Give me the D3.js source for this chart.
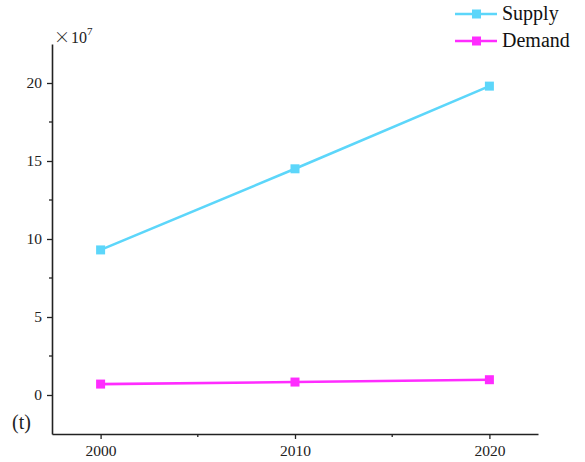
<!DOCTYPE html>
<html>
<head>
<meta charset="utf-8">
<script src="https://cdn.jsdelivr.net/npm/d3@7/dist/d3.min.js"></script>
<style>
  html, body { margin: 0; padding: 0; background: #fff; }
  svg { display: block; font-family: "Liberation Serif", "Times New Roman", serif; }
</style>
</head>
<body>
<svg id="chart" width="585" height="462"></svg>
<script>
// Years on the x axis
const years = [2000, 2010, 2020];
// Values in units of 10^7 t
const supply = [9.3, 14.5, 19.8];
const demand = [0.7, 0.83, 0.98];
const seriesNames = ["Supply", "Demand"];
const seriesColors = ["#5cd6fa", "#ff2cff"];
const yTickValues = [0, 5, 10, 15, 20];
const xTickValues = [2000, 2010, 2020];

const svg = d3.select("#chart");
const plotLeft = 52, plotRight = 538, plotTop = 44, plotBottom = 434;

const x = d3.scaleLinear().domain([1997.5, 2022.5]).range([plotLeft, plotRight]);
const y = d3.scaleLinear().domain([-2.5, 22.5]).range([plotBottom, plotTop]);

// Minor ticks
const yMinor = [2.5, 7.5, 12.5, 17.5];
svg.append("g").selectAll("line").data(yMinor).join("line")
  .attr("x1", plotLeft).attr("x2", plotLeft - 3)
  .attr("y1", d => y(d)).attr("y2", d => y(d))
  .attr("stroke", "#222").attr("stroke-width", 1.3);
const xMinor = [2005, 2015];
svg.append("g").selectAll("line").data(xMinor).join("line")
  .attr("x1", d => x(d)).attr("x2", d => x(d))
  .attr("y1", plotBottom).attr("y2", plotBottom + 3)
  .attr("stroke", "#222").attr("stroke-width", 1.3);

// Axes
const yAxis = d3.axisLeft(y).tickValues(yTickValues).tickSize(5).tickPadding(5).tickSizeOuter(0);
const gy = svg.append("g").attr("transform", `translate(${plotLeft},0)`).call(yAxis);
const xAxis = d3.axisBottom(x).tickValues(xTickValues).tickFormat(d3.format("d")).tickSize(5).tickPadding(6).tickSizeOuter(0);
const gx = svg.append("g").attr("transform", `translate(0,${plotBottom})`).call(xAxis);
[gx, gy].forEach(g => {
  g.attr("font-size", null).attr("font-family", null);
  g.select(".domain").attr("stroke", "#222").attr("stroke-width", 1.6);
  g.selectAll(".tick line").attr("stroke", "#222").attr("stroke-width", 1.3);
  g.selectAll(".tick text").attr("fill", "#222").style("font-size", "15.5px")
    .style("font-family", "'Liberation Serif', serif");
});

// Unit labels
const unit = svg.append("text").attr("x", 54).attr("y", 43).attr("fill", "#222")
  .style("font-size", "16px");
unit.append("tspan").style("font-family", "'Noto Sans CJK SC', sans-serif")
  .style("font-weight", 300).style("font-size", "16px").text("×");
unit.append("tspan").attr("dx", 1).text("10");
unit.append("tspan").attr("dy", -8).style("font-size", "11px").text("7");
svg.append("text").attr("x", 12).attr("y", 429).attr("fill", "#222")
  .style("font-size", "20px").text("(t)");

// Series
const series = [supply, demand];
const line = d3.line().x((d, i) => x(years[i])).y(d => y(d));
series.forEach((vals, k) => {
  svg.append("path").datum(vals)
    .attr("d", line).attr("fill", "none")
    .attr("stroke", seriesColors[k]).attr("stroke-width", 2.6);
  svg.append("g").selectAll("rect").data(vals).join("rect")
    .attr("x", (d, i) => x(years[i]) - 4.5)
    .attr("y", d => y(d) - 4.5)
    .attr("width", 9).attr("height", 9)
    .attr("fill", seriesColors[k]);
});

// Legend
const legend = svg.append("g");
seriesNames.forEach((name, k) => {
  const ly = 14 + k * 27;
  legend.append("line").attr("x1", 455).attr("x2", 497).attr("y1", ly).attr("y2", ly)
    .attr("stroke", seriesColors[k]).attr("stroke-width", 2.6);
  legend.append("rect").attr("x", 472).attr("y", ly - 4.5).attr("width", 9).attr("height", 9)
    .attr("fill", seriesColors[k]);
  legend.append("text").attr("x", 502).attr("y", ly + 6).attr("fill", "#111")
    .style("font-size", "20px").text(name);
});
</script>
</body>
</html>
